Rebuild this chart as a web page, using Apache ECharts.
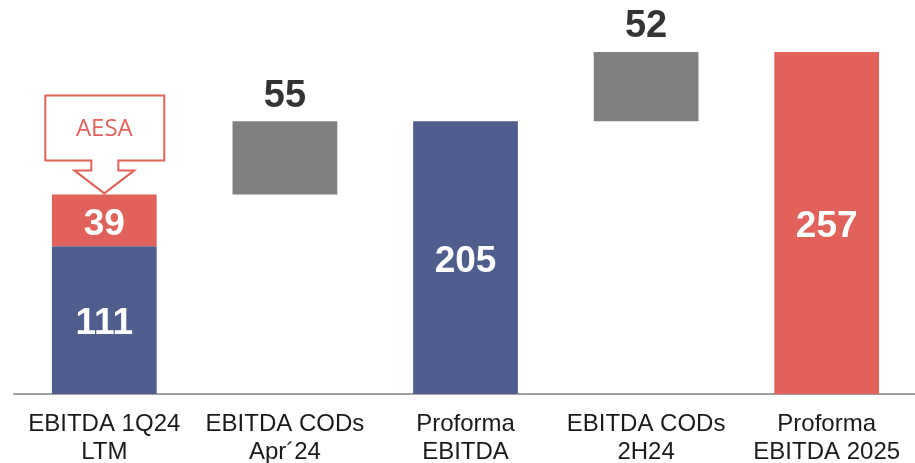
<!DOCTYPE html>
<html>
<head>
<meta charset="utf-8">
<script src="https://cdn.jsdelivr.net/npm/echarts@6/dist/echarts.min.js"></script>
<style>
  html, body { margin: 0; padding: 0; background: #fff; }
  #chart { width: 915px; height: 463px; }
</style>
</head>
<body>
<div id="chart"></div>
<script>
// waterfall data
var categories = ['EBITDA 1Q24\nLTM', 'EBITDA CODs\nApr´24', 'Proforma\nEBITDA', 'EBITDA CODs\n2H24', 'Proforma\nEBITDA 2025']
var baseValues = [0, 150, 0, 205, 0]
var blueValues = [111, '-', 205, '-', '-']
var redValues = [39, '-', '-', '-', 257]
var greyValues = ['-', 55, '-', 52, '-']
var calloutText = 'AESA'

var blue = '#505e8e'
var red = '#e0625a'
var grey = '#808080'
var font = 'Liberation Sans, Arial, sans-serif'

var chartDom = document.getElementById('chart')
var myChart = echarts.init(chartDom)

var insideLabel = {
  show: true,
  position: 'inside',
  offset: [0, 4],
  color: '#fff',
  fontSize: 37,
  fontWeight: 'bold',
  fontFamily: font
}

var option = {
  animation: false,
  grid: { left: 14, right: -2, top: 52, bottom: 69, containLabel: false, outerBoundsMode: 'none' },
  xAxis: {
    type: 'category',
    data: categories,
    axisLine: { show: true, lineStyle: { color: '#a0a0a0', width: 2 } },
    axisTick: { show: false },
    axisLabel: {
      color: '#1a1a1a',
      fontSize: 24,
      lineHeight: 28,
      fontFamily: font,
      margin: 16,
      interval: 0
    }
  },
  yAxis: {
    type: 'value',
    min: 0,
    max: 257,
    show: false,
    splitLine: { show: false }
  },
  series: [
    {
      name: 'base',
      type: 'bar',
      stack: 'total',
      barWidth: '58%',
      itemStyle: { color: 'transparent' },
      data: baseValues
    },
    {
      name: 'blue',
      type: 'bar',
      stack: 'total',
      itemStyle: { color: blue },
      label: insideLabel,
      data: blueValues
    },
    {
      name: 'red',
      type: 'bar',
      stack: 'total',
      itemStyle: { color: red },
      label: insideLabel,
      data: redValues
    },
    {
      name: 'grey',
      type: 'bar',
      stack: 'total',
      itemStyle: { color: grey },
      label: {
        show: true,
        position: 'top',
        distance: 6,
        color: '#333',
        fontSize: 38,
        fontWeight: 'bold',
        fontFamily: font
      },
      data: greyValues
    }
  ]
}
option && myChart.setOption(option)

// AESA callout pointing at the top of the first stacked bar
var tip = myChart.convertToPixel({ seriesIndex: 2 }, [0, blueValues[0] + redValues[0]])
var cx = tip[0]
var ty = tip[1] - 1
var pts = [
  [cx - 59, ty - 98],
  [cx + 60, ty - 98],
  [cx + 60, ty - 33],
  [cx + 14, ty - 33],
  [cx + 14, ty - 23],
  [cx + 30, ty - 23],
  [cx, ty],
  [cx - 30, ty - 23],
  [cx - 13, ty - 23],
  [cx - 13, ty - 33],
  [cx - 59, ty - 33]
]
myChart.setOption({
  graphic: [
    {
      type: 'polygon',
      shape: { points: pts },
      style: { fill: '#fff', stroke: red, lineWidth: 2 }
    },
    {
      type: 'text',
      x: cx,
      y: ty - 64,
      style: {
        text: calloutText,
        fill: red,
        fontSize: 24,
        fontFamily: 'Open Sans, sans-serif',
        align: 'center',
        verticalAlign: 'middle'
      }
    }
  ]
})
</script>
</body>
</html>
